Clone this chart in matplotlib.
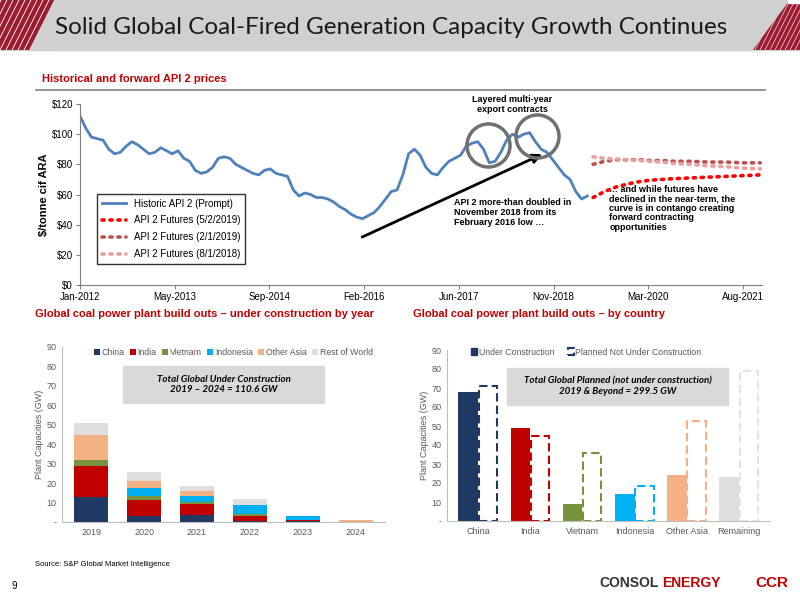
import matplotlib
matplotlib.use("Agg")
import matplotlib.pyplot as plt
from matplotlib.patches import Polygon, Rectangle, FancyArrowPatch
import numpy as np

# ---------------- data ----------------
hist_months = list(range(0, 89))
hist_values = [112, 104, 98, 97, 96, 90, 87, 88, 92, 95, 93, 90, 87, 88, 91, 89, 87, 89, 84, 82,
               76, 74, 75, 78, 84, 85, 84, 80, 78, 76, 74, 73, 76, 77, 74, 73, 72, 63, 59, 61,
               60, 58, 58, 57, 55, 52, 50, 47, 45, 44, 46, 48, 52, 57, 62, 63, 73, 87, 90, 86,
               78, 74, 73, 78, 82, 84, 86, 92, 94, 95, 90, 81, 82, 88, 96, 100, 98, 100, 101, 95,
               90, 88, 83, 78, 73, 70, 62, 57, 59]
fut_months = [89, 91, 93, 95, 97, 99, 101, 103, 106, 109, 112, 115, 118]
fut_0502 = [58, 62, 65, 67, 68.5, 69.5, 70, 70.5, 71, 71.5, 72, 72.5, 73]
fut_0201 = [80, 82, 83, 83, 83, 82.5, 82.5, 82, 82, 81.5, 81.5, 81, 81]
fut_0801 = [85, 84, 83.5, 83, 82.5, 82, 81.5, 80.5, 80, 79, 78.5, 77.5, 77]
x_tick_labels = ["Jan-2012", "May-2013", "Sep-2014", "Feb-2016", "Jun-2017", "Nov-2018", "Mar-2020", "Aug-2021"]

years = ["2019", "2020", "2021", "2022", "2023", "2024"]
uc_series = ["China", "India", "Vietnam", "Indonesia", "Other Asia", "Rest of World"]
uc_china = [13, 3, 3.5, 0.5, 0.5, 0]
uc_india = [16, 8.5, 6, 2.5, 0.5, 0]
uc_vietnam = [3, 2, 1, 1, 0, 0]
uc_indonesia = [0, 4, 3, 4.5, 2, 0]
uc_other_asia = [12.5, 3.5, 2.5, 0.5, 0, 1.2]
uc_rest = [6.5, 4.5, 2.5, 3, 0.3, 0]

countries = ["China", "India", "Vietnam", "Indonesia", "Other Asia", "Remaining"]
under_construction = [68, 49, 9, 14, 24, 23]
planned = [71, 44.5, 36, 18.5, 52.5, 79]

colors = ["#1f3864", "#c00000", "#77933c", "#00b0f0", "#f4b183", "#dedede"]
planned_edge = ["#1f3864", "#c00000", "#77933c", "#00b0f0", "#f4b183", "#e3e3e3"]

plt.rcParams['font.family'] = ['Liberation Sans', 'DejaVu Sans']
fig = plt.figure(figsize=(8, 6), dpi=100)
fig.patch.set_facecolor("white")

def fx(px): return px / 800
def fy(py): return 1 - py / 600

# ---------------- header ----------------
bg = fig.add_axes([0, 0, 1, 1], zorder=-5)
bg.set_xlim(0, 800); bg.set_ylim(600, 0); bg.axis("off")
bg.add_patch(Rectangle((0, 0), 800, 50, color="#d0d0d0"))
bg.add_patch(Polygon([[0, 0], [55, 0], [30, 50], [0, 50]], closed=True, facecolor="#9b1b30", edgecolor="none"))
for xx in range(-60, 60, 6):
    bg.plot([xx, xx + 25], [50, 0], color="white", lw=0.6)
bg.add_patch(Polygon([[800, 0], [800, 50], [752, 50], [790, 0]], closed=True, facecolor="#9b1b30", edgecolor="none"))
for xx in range(750, 810, 5):
    bg.plot([xx, xx + 25], [50, 0], color="#e8c0c8", lw=0.6)
bg.add_patch(Rectangle((55, 0), 697, 50, color="#d0d0d0", zorder=3))
bg.add_patch(Polygon([[55, 0], [30, 50], [60, 50], [60, 0]], closed=True, color="#d0d0d0", zorder=3))
bg.add_patch(Polygon([[788, 0], [752, 50], [740, 50], [740, 0]], closed=True, color="#d0d0d0", zorder=3))
bg.add_patch(Rectangle((788, 0), 12, 3, color="white", zorder=3))
bg.text(55, 27, "Solid Global Coal-Fired Generation Capacity Growth Continues", fontsize=17.5,
        family=["Lato", "DejaVu Sans"], color="#1a1a1a", va="center", ha="left", zorder=4)

bg.text(42, 79, "Historical and forward API 2 prices", color="#c00000", fontsize=8, weight="bold", va="center")
bg.plot([36, 765], [90, 90], color="#808080", lw=1.2)
bg.text(35, 314, "Global coal power plant build outs – under construction by year", color="#c00000", fontsize=8, weight="bold", va="center")
bg.text(413, 314, "Global coal power plant build outs – by country", color="#c00000", fontsize=8, weight="bold", va="center")
bg.text(35, 564, "Source: S&P Global Market Intelligence", fontsize=5.5, va="center")
bg.text(12, 586, "9", fontsize=7, va="center")
bg.text(659, 583, "CONSOL", fontsize=10, weight="bold", color="#333333", va="center", ha="right")
bg.text(662, 583, "ENERGY", fontsize=10, weight="bold", color="#c00000", va="center", ha="left")
bg.text(755, 583, "CCR", fontsize=11, weight="bold", color="#c00000", va="center")

# ---------------- top chart ----------------
ax = fig.add_axes([fx(80), fy(285), fx(762) - fx(80), fy(104) - fy(285)])
ax.plot(hist_months, hist_values, color="#4f81bd", lw=2, label="Historic API 2 (Prompt)")
dot = (0, (0.6, 1.6))
ax.plot(fut_months, fut_0502, color="#ff0000", lw=2.6, ls=dot, dash_capstyle="round", label="API 2 Futures (5/2/2019)")
ax.plot(fut_months, fut_0201, color="#c0504d", lw=2.6, ls=dot, dash_capstyle="round", label="API 2 Futures (2/1/2019)")
ax.plot(fut_months, fut_0801, color="#e6a0a0", lw=2.6, ls=dot, dash_capstyle="round", label="API 2 Futures (8/1/2018)")
ax.set_xlim(0, 118.3)
ax.set_ylim(0, 120)
ax.set_xticks([i * 115 / 7 for i in range(8)])
ax.set_xticklabels(x_tick_labels, fontsize=7)
ax.set_yticks(range(0, 121, 20))
ax.set_yticklabels(["$%d" % v for v in range(0, 121, 20)], fontsize=7)
for s in ["top", "right"]:
    ax.spines[s].set_visible(False)
for s in ["left", "bottom"]:
    ax.spines[s].set_color("#808080")
ax.tick_params(length=3, color="#808080", pad=2)
ax.set_ylabel("$/tonne cif ARA", fontsize=8, weight="bold", labelpad=2)
leg = ax.legend(loc="lower left", bbox_to_anchor=(0.018, 0.09), fontsize=7, frameon=True, fancybox=False,
                edgecolor="black", handlelength=2.5, labelspacing=0.7, borderpad=0.5)
leg.get_frame().set_linewidth(1)
ax.plot([70.7], [92.8], marker="o", ms=31, mfc="none", mec="#707070", mew=2.5)
ax.plot([79.2], [98.8], marker="o", ms=31, mfc="none", mec="#707070", mew=2.5)
ax.add_patch(FancyArrowPatch((48.5, 31), (80.6, 87.5), arrowstyle="-|>", mutation_scale=14, color="black", lw=2))
ax.text(75, 126, "Layered multi-year\nexport contracts", fontsize=6.5, weight="bold", ha="center", va="top")
ax.text(64.8, 58, "API 2 more-than doubled in\nNovember 2018 from its\nFebruary 2016 low …", fontsize=6.5, weight="bold", ha="left", va="top")
ax.text(91.8, 66, "… and while futures have\ndeclined in the near-term, the\ncurve is in contango creating\nforward contracting\nopportunities",
        fontsize=6.5, weight="bold", ha="left", va="top", linespacing=1.05)

# ---------------- bottom left ----------------
ax2 = fig.add_axes([fx(62), fy(522), fx(385) - fx(62), fy(347) - fy(522)])
xs = np.arange(len(years))
bottom = np.zeros(len(years))
for name, vals, c in zip(uc_series, [uc_china, uc_india, uc_vietnam, uc_indonesia, uc_other_asia, uc_rest], colors):
    ax2.bar(xs, vals, bottom=bottom, width=0.65, color=c, label=name)
    bottom += np.array(vals)
ax2.set_xticks(xs)
ax2.set_xticklabels(years, fontsize=6.5, color="#595959")
ax2.set_xlim(-0.55, 5.55)
ax2.set_ylim(0, 90)
ax2.set_yticks(range(0, 91, 10))
ax2.set_yticklabels(["-"] + [str(v) for v in range(10, 91, 10)], fontsize=6.5, color="#595959")
ax2.set_ylabel("Plant Capacities (GW)", fontsize=6.5, color="#595959", labelpad=2)
for s in ["top", "right"]:
    ax2.spines[s].set_visible(False)
for s in ["left", "bottom"]:
    ax2.spines[s].set_color("#bfbfbf")
ax2.tick_params(length=0, pad=4)
ax2.legend(loc="upper center", bbox_to_anchor=(0.53, 1.04), ncol=6, fontsize=6.3, frameon=False,
           handlelength=0.7, handletextpad=0.2, columnspacing=0.6, labelcolor="#595959")
ax2.add_patch(Rectangle((0.19, 0.68), 0.62, 0.21, transform=ax2.transAxes, color="#d9d9d9", zorder=0.5))
ax2.text(0.5, 0.785, "Total Global Under Construction\n2019 – 2024 = 110.6 GW", transform=ax2.transAxes,
         ha="center", va="center", fontsize=7, weight="bold", style="italic", family=["Lato", "DejaVu Sans"])

# ---------------- bottom right ----------------
ax3 = fig.add_axes([fx(447), fy(521), fx(770) - fx(447), fy(350) - fy(521)])
xs = np.arange(len(countries))
w = 0.38
ax3.bar(xs - w / 2, under_construction, width=w, color=colors, label="Under Construction")
for i, (v, c) in enumerate(zip(planned, planned_edge)):
    ax3.bar(xs[i] + w / 2, v, width=w * 0.92, facecolor="white", edgecolor=c, lw=1.5, ls=(0, (4, 2)),
            label="Planned Not Under Construction" if i == 0 else None)
ax3.set_xticks(xs)
ax3.set_xticklabels(countries, fontsize=6.5, color="#595959")
ax3.set_xlim(-0.6, 5.6)
ax3.set_ylim(0, 90)
ax3.set_yticks(range(0, 91, 10))
ax3.set_yticklabels(["-"] + [str(v) for v in range(10, 91, 10)], fontsize=6.5, color="#595959")
ax3.set_ylabel("Plant Capacities (GW)", fontsize=6.5, color="#595959", labelpad=2)
for s in ["top", "right"]:
    ax3.spines[s].set_visible(False)
for s in ["left", "bottom"]:
    ax3.spines[s].set_color("#bfbfbf")
ax3.tick_params(length=0, pad=4)
h, l = ax3.get_legend_handles_labels()
lg = ax3.legend(h, l, loc="upper left", bbox_to_anchor=(0.05, 1.06), ncol=2, fontsize=6.3, frameon=False,
                handlelength=0.7, handletextpad=0.2, columnspacing=1.5, labelcolor="#595959")
lg.legend_handles[0].set_color("#1f3864")
lg.legend_handles[1].set_edgecolor("#1f3864")
ax3.add_patch(Rectangle((0.186, 0.68), 0.684, 0.215, transform=ax3.transAxes, color="#d9d9d9", zorder=0.5))
ax3.text(0.528, 0.7875, "Total Global Planned (not under construction)\n2019 & Beyond = 299.5 GW", transform=ax3.transAxes,
         ha="center", va="center", fontsize=7, weight="bold", style="italic", family=["Lato", "DejaVu Sans"])

fig.savefig("out.png", dpi=100)
